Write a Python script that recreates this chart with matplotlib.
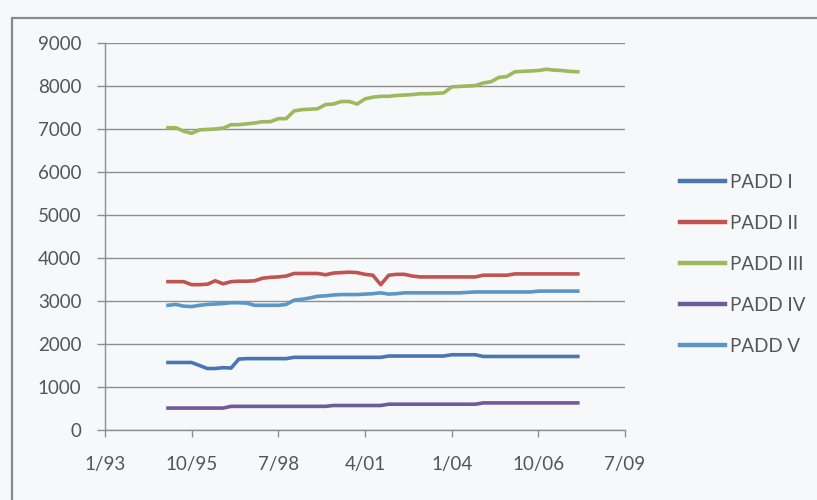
import matplotlib
matplotlib.use("Agg")
import matplotlib.pyplot as plt
import matplotlib.dates as mdates
import pandas as pd
from matplotlib.patches import Rectangle

# ---- data (quarterly, Jan 1995 .. Jan 2008) ----
dates = pd.date_range("1995-01-01", "2008-01-01", freq="QS")

padd1 = [1570, 1570, 1570, 1570, 1500, 1430, 1430, 1450, 1440, 1650,
         1660, 1660, 1660, 1660, 1660, 1660, 1690, 1690, 1690, 1690,
         1690, 1690, 1690, 1690, 1690, 1690, 1690, 1690, 1720, 1720,
         1720, 1720, 1720, 1720, 1720, 1720, 1750, 1750, 1750, 1750,
         1710, 1710, 1710, 1710, 1710, 1710, 1710, 1710, 1710, 1710,
         1710, 1710, 1710]
padd2 = [3450, 3450, 3450, 3380, 3380, 3390, 3470, 3400, 3450, 3460,
         3460, 3470, 3530, 3550, 3560, 3580, 3640, 3640, 3640, 3640,
         3610, 3650, 3660, 3670, 3660, 3620, 3600, 3380, 3600, 3620,
         3620, 3580, 3560, 3560, 3560, 3560, 3560, 3560, 3560, 3560,
         3600, 3600, 3600, 3600, 3630, 3630, 3630, 3630, 3630, 3630,
         3630, 3630, 3630]
padd3 = [7030, 7030, 6950, 6900, 6980, 6990, 7000, 7020, 7100, 7100,
         7120, 7140, 7170, 7170, 7240, 7240, 7420, 7450, 7460, 7470,
         7570, 7580, 7640, 7640, 7580, 7700, 7740, 7760, 7760, 7780,
         7790, 7800, 7820, 7820, 7830, 7840, 7980, 7990, 8000, 8010,
         8070, 8100, 8200, 8220, 8330, 8340, 8350, 8360, 8390, 8370,
         8360, 8340, 8330]
padd4 = [510, 510, 510, 510, 510, 510, 510, 510, 550, 550,
         550, 550, 550, 550, 550, 550, 550, 550, 550, 550,
         550, 570, 570, 570, 570, 570, 570, 570, 600, 600,
         600, 600, 600, 600, 600, 600, 600, 600, 600, 600,
         630, 630, 630, 630, 630, 630, 630, 630, 630, 630,
         630, 630, 630]
padd5 = [2900, 2920, 2880, 2870, 2900, 2920, 2930, 2940, 2960, 2960,
         2950, 2900, 2900, 2900, 2900, 2920, 3020, 3040, 3070, 3110,
         3120, 3140, 3150, 3150, 3150, 3160, 3170, 3190, 3160, 3170,
         3190, 3190, 3190, 3190, 3190, 3190, 3190, 3190, 3200, 3210,
         3210, 3210, 3210, 3210, 3210, 3210, 3210, 3230, 3230, 3230,
         3230, 3230, 3230]

series_names = ["PADD I", "PADD II", "PADD III", "PADD IV", "PADD V"]
series_values = [padd1, padd2, padd3, padd4, padd5]
colors = ["#4776b2", "#bf5450", "#9cb95e", "#6f5a9c", "#5a97c6"]

xtick_labels = ["1/93", "10/95", "7/98", "4/01", "1/04", "10/06", "7/09"]
xtick_dates = pd.to_datetime(["1993-01-01", "1995-10-01", "1998-07-01", "2001-04-01",
                              "2004-01-01", "2006-10-01", "2009-07-01"])
yticks = [0, 1000, 2000, 3000, 4000, 5000, 6000, 7000, 8000, 9000]

# ---- figure ----
bg = "#f7f8fa"
txt = "#555555"
grid = "#8e8e8e"
W, H = 817, 500
fig = plt.figure(figsize=(W / 100, H / 100), dpi=100, facecolor=bg)

# outer chart frame (partly cut by image edge)
fig.patches.append(Rectangle((12 / W, -0.1), 1.2, (H - 18) / H + 0.1,
                             transform=fig.transFigure, fill=False,
                             edgecolor="#8a8a8a", linewidth=1.6))

ax = fig.add_axes([105 / W, 1 - 430 / H, (625 - 105) / W, (430 - 43) / H])
ax.set_facecolor(bg)

for name, vals, c in zip(series_names, series_values, colors):
    ax.plot(dates, vals, color=c, linewidth=2.6, label=name, solid_joinstyle="round")

ax.set_xlim(xtick_dates[0], xtick_dates[-1])
ax.set_ylim(0, 9000)
ax.set_yticks(yticks)
ax.set_yticklabels([str(v) for v in yticks])
ax.set_xticks(xtick_dates)
ax.set_xticklabels(xtick_labels)

ax.yaxis.grid(True, color=grid, linewidth=1.0)
ax.set_axisbelow(True)
for s in ["top", "right"]:
    ax.spines[s].set_visible(False)
for s in ["left", "bottom"]:
    ax.spines[s].set_color(grid)
    ax.spines[s].set_linewidth(1.0)

font = ["Lato", "DejaVu Sans"]
ax.tick_params(axis="y", length=6, width=1.0, color=grid, pad=11,
               labelsize=13.5, labelcolor=txt)
ax.tick_params(axis="x", length=5, width=1.0, color=grid, pad=14,
               labelsize=13.5, labelcolor=txt)
for lab in ax.get_xticklabels() + ax.get_yticklabels():
    lab.set_family(font)

leg = fig.legend(loc="upper left", bbox_to_anchor=(672 / W, 1 - 166 / H),
                 frameon=False, handlelength=2.45, handletextpad=0.25,
                 labelspacing=1.28, prop={"family": font, "size": 13.5},
                 borderaxespad=0)
for t in leg.get_texts():
    t.set_color(txt)
for l in leg.get_lines():
    l.set_linewidth(3.2)

fig.savefig("out.png", dpi=100, facecolor=bg)
